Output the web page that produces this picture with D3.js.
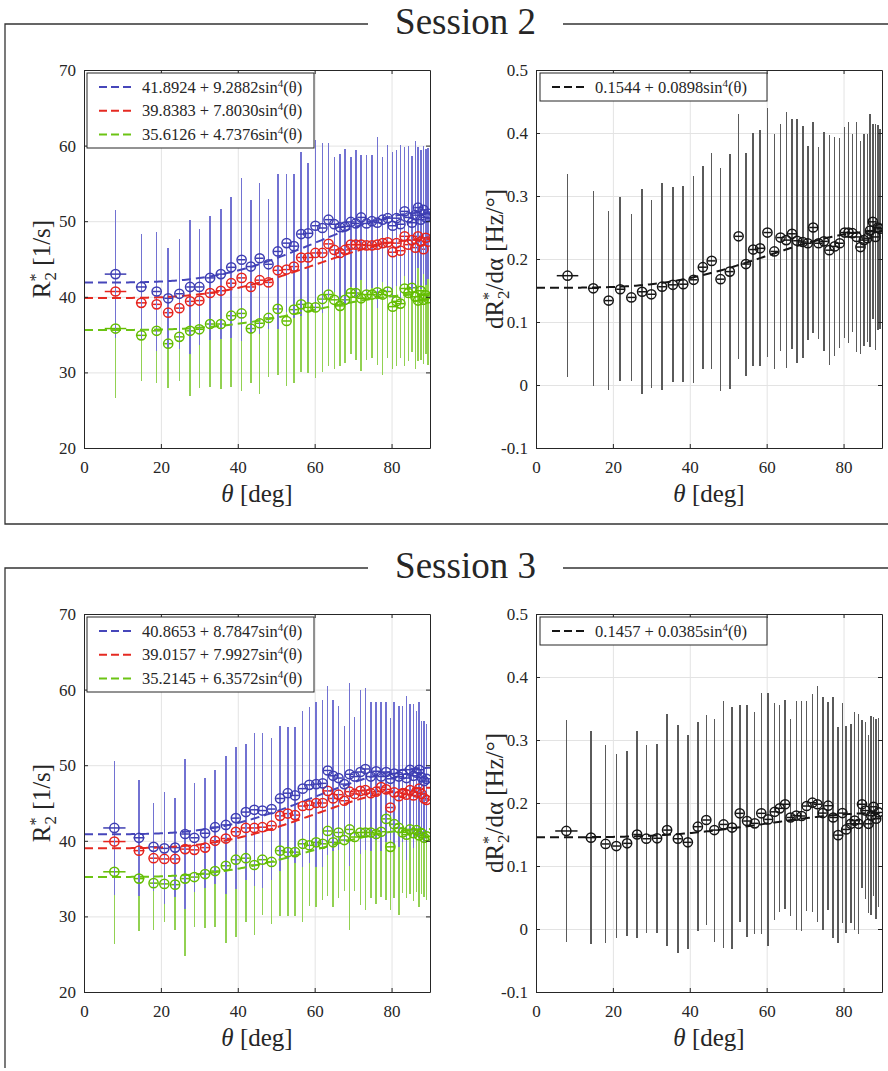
<!DOCTYPE html>
<html><head><meta charset="utf-8">
<script src="https://cdn.jsdelivr.net/npm/d3@7"></script>
<style>
body{margin:0;background:#fff}
svg text{font-family:"Liberation Serif","Tinos","DejaVu Serif","Noto Serif",serif !important;fill:#262626}
</style></head>
<body><svg id="c" width="888" height="1071"></svg>
<script>
// ---------------- DATA ----------------
const xTicks = [0, 20, 40, 60, 80];
const r2Ticks = [20, 30, 40, 50, 60, 70];
const dTicks = [-0.1, 0, 0.1, 0.2, 0.3, 0.4, 0.5];
const legendOrder = ["blue", "red", "green"];

// Session 2
const theta2 = [8.2,14.9,18.9,21.9,24.8,27.6,30.0,32.8,35.6,38.3,41.0,43.4,45.7,48.0,50.4,52.7,54.6,56.5,58.3,60.2,62.0,63.6,65.1,66.6,67.9,69.4,70.7,72.1,73.5,74.9,76.3,77.7,79.0,80.3,81.3,82.3,83.4,84.4,85.3,86.2,86.9,87.6,88.3,88.9,89.5];
const thetaErr2 = [2.8,1.4,1,1,1,1,1,1,1,1,1,1,1,1,1,1,1,1,1,1,1,1,1,1,1,1,1,1,1,1,1,1,1,1,1,1,1,1,1,1,1,1,1,1,1];
const blue2 = [43.0,41.3,40.7,39.8,40.4,41.3,41.3,42.5,43.0,43.9,44.9,44.0,45.1,44.3,46.0,47.1,46.7,48.3,48.4,49.4,49.1,50.2,49.6,49.2,49.3,49.9,49.7,50.5,49.7,50.0,49.8,50.2,50.4,49.4,50.4,49.6,51.3,50.5,49.8,50.8,51.8,50.2,51.5,50.5,51.0];
const blueErr2 = [8.5,7.0,7.9,6.6,7.3,8.9,7.7,8.2,8.6,9.3,10.8,8.8,10.0,8.6,10.2,9.1,9.5,10.8,9.3,11.3,11.2,10.2,8.9,9.7,10.2,8.6,9.7,8.3,9.1,8.8,11.3,8.3,9.7,9.8,9.0,10.5,8.5,9.5,8.8,9.8,8.0,9.2,8.5,9.0,8.7];
const red2 = [40.7,39.2,39.0,37.9,38.5,39.4,39.5,40.5,40.8,41.8,42.5,41.3,42.2,41.9,43.5,43.6,44.0,45.2,45.2,45.8,45.8,47.0,46.2,45.8,46.2,46.9,46.9,46.9,46.8,46.8,46.9,47.1,47.2,45.9,47.1,46.1,48.0,46.9,47.5,46.5,48.0,47.3,46.3,47.8,47.3];
const redErr2 = [7.5,6.5,7.0,6.0,6.5,7.5,7.0,7.5,7.5,8.0,9.0,7.5,8.5,7.5,8.5,8.0,8.0,9.0,8.0,9.5,9.5,8.5,8.0,8.5,8.5,7.5,8.5,7.5,8.0,8.0,9.5,7.5,8.5,8.5,8.0,9.0,7.5,8.5,8.0,8.5,7.5,8.0,7.5,8.0,7.5];
const green2 = [35.8,34.9,35.5,33.8,34.7,35.5,35.7,36.4,36.4,37.5,37.8,35.8,36.5,37.2,38.4,36.8,38.3,39.0,38.6,38.6,39.7,40.3,39.6,38.8,39.6,40.5,40.5,39.8,40.3,40.3,40.6,40.3,40.7,38.7,39.4,39.1,41.1,40.5,41.2,40.0,39.5,40.8,39.6,40.2,39.8];
const greenErr2 = [9.2,6.1,6.9,5.9,5.9,8.6,7.7,8.3,8.6,9.4,10.2,7.2,9.3,7.8,8.7,8.6,9.7,9.0,8.7,9.4,9.7,9.5,9.1,8.0,8.4,8.0,8.9,9.6,8.7,8.4,9.6,10.6,8.8,8.2,8.6,7.2,10.3,9.0,8.5,9.5,8.0,9.2,8.5,7.8,8.8];
const slope2 = [0.1735,0.1535,0.134,0.152,0.139,0.148,0.144,0.156,0.159,0.160,0.167,0.187,0.197,0.168,0.180,0.236,0.192,0.215,0.217,0.242,0.212,0.234,0.230,0.240,0.229,0.227,0.225,0.250,0.225,0.228,0.214,0.220,0.225,0.242,0.242,0.241,0.235,0.219,0.230,0.233,0.245,0.259,0.235,0.250,0.248];
const slopeErr2 = [0.161,0.155,0.142,0.146,0.132,0.163,0.149,0.164,0.155,0.156,0.164,0.161,0.172,0.177,0.186,0.194,0.177,0.185,0.187,0.197,0.186,0.180,0.203,0.183,0.194,0.184,0.154,0.168,0.152,0.174,0.183,0.174,0.167,0.167,0.175,0.157,0.183,0.169,0.168,0.165,0.185,0.155,0.179,0.162,0.159];
const fits2 = {blue:[41.8924,9.2882], red:[39.8383,7.8030], green:[35.6126,4.7376], black:[0.1544,0.0898]};

// Session 3
const theta3 = [7.9,14.3,18.1,20.9,23.7,26.3,28.7,31.5,34.1,36.9,39.5,42.1,44.3,46.4,48.8,51.0,53.0,54.9,56.9,58.6,60.4,62.1,63.4,64.8,66.2,67.7,69.1,70.4,71.9,73.2,74.6,76.0,77.3,78.6,79.7,80.7,81.9,82.9,83.9,84.8,85.7,86.5,87.2,87.8,88.5,89.1];
const thetaErr3 = [2.9,1.4,1,1,1,1,1,1,1,1,1,1,1,1,1,1,1,1,1,1,1,1,1,1,1,1,1,1,1,1,1,1,1,1,1,1,1,1,1,1,1,1,1,1,1,1];
const blue3 = [41.7,40.4,39.2,39.0,39.1,40.9,40.4,41.0,41.8,42.1,43.0,43.8,44.1,44.0,44.2,45.6,46.3,46.0,46.9,47.4,47.5,47.6,49.3,48.6,48.3,47.5,48.8,48.5,49.1,49.5,48.5,49.2,48.5,49.1,48.2,48.9,48.5,48.8,48.3,49.4,48.6,49.0,49.4,48.4,47.9,48.2];
const blueErr3 = [8.9,7.7,5.8,7.4,6.5,9.9,7.2,7.3,7.5,9.1,9.4,9.0,10.1,10.2,9.4,9.6,8.7,9.0,10.3,10.3,10.9,11.0,11.2,10.0,9.5,7.7,12.1,7.9,10.9,10.7,9.9,9.1,9.8,9.2,8.1,9.4,9.3,9.0,10.8,8.7,9.5,8.2,9.0,7.5,8.0,7.2];
const red3 = [39.9,38.7,37.7,37.6,37.6,38.9,38.8,39.1,40.0,40.3,41.2,41.7,41.7,41.8,42.0,43.3,43.6,43.4,44.6,44.7,45.0,45.0,46.6,45.6,46.1,45.3,46.5,46.2,46.6,46.7,46.3,46.5,47.1,46.8,44.4,46.4,45.9,46.3,46.1,46.7,46.0,46.4,46.9,46.2,45.6,45.4];
const redErr3 = [7.5,6.5,5.5,6.5,6.0,8.5,6.5,6.5,7.0,8.0,8.5,8.0,9.0,9.0,8.5,8.5,8.0,8.0,9.0,9.0,9.5,9.5,10.0,9.0,8.5,7.0,10.5,7.5,9.5,9.5,9.0,8.5,9.0,8.5,7.5,8.5,8.5,8.0,9.5,8.0,8.5,7.5,8.0,7.0,7.5,7.0];
const green3 = [35.9,35.0,34.4,34.3,34.2,35.0,35.2,35.6,36.0,36.7,37.5,37.7,36.8,37.5,37.2,38.7,38.5,38.5,39.6,39.4,39.8,39.6,41.3,39.8,41.1,40.1,41.5,40.5,41.1,41.1,41.1,40.9,41.2,42.9,39.2,42.2,41.7,41.1,40.8,41.5,41.0,41.4,40.7,41.0,40.4,40.6];
const greenErr3 = [9.5,6.9,6.2,5.0,6.0,10.2,6.6,7.2,7.4,10.2,10.2,8.5,9.3,7.3,8.2,8.6,8.4,8.4,10.3,8.0,8.5,7.4,8.6,8.5,8.7,6.8,13.3,7.1,9.6,10.2,8.7,9.2,8.6,10.7,8.4,9.8,11.5,8.0,8.4,8.6,9.0,8.2,9.5,8.0,7.8,8.4];
const slope3 = [0.1556,0.145,0.135,0.1317,0.136,0.150,0.1433,0.144,0.157,0.1433,0.1376,0.1624,0.173,0.157,0.166,0.161,0.1836,0.1714,0.1677,0.1836,0.174,0.186,0.1915,0.198,0.177,0.180,0.1794,0.1952,0.2005,0.198,0.184,0.1957,0.177,0.149,0.184,0.158,0.167,0.172,0.167,0.198,0.188,0.167,0.180,0.194,0.175,0.185];
const slopeErr3 = [0.176,0.169,0.157,0.146,0.147,0.165,0.149,0.150,0.184,0.181,0.170,0.166,0.167,0.177,0.196,0.192,0.172,0.184,0.176,0.191,0.201,0.172,0.164,0.166,0.156,0.182,0.183,0.166,0.173,0.187,0.185,0.165,0.191,0.171,0.175,0.165,0.158,0.173,0.175,0.133,0.140,0.141,0.158,0.142,0.159,0.150];
const fits3 = {blue:[40.8653,8.7847], red:[39.0157,7.9927], green:[35.2145,6.3572], black:[0.1457,0.0385]};

// ---------------- STYLE ----------------
const FONT = '"Liberation Serif","Tinos","DejaVu Serif","Noto Serif",serif';
const COL = {
  blue:{mk:"#3e3eb2", bar:"#7272d2", fit:"#4646ba"},
  red:{mk:"#e6231d", bar:"#e6231d", fit:"#e52a22"},
  green:{mk:"#63bd00", bar:"#92d152", fit:"#6cc414"},
  black:{mk:"#151515", bar:"#5a5a5a", fit:"#151515"}
};

const svg = d3.select("#c");
let clipN = 0;

function fmtTick(d){ return String(Math.round(d*10)/10); }

function panel(cfg){
  const x = d3.scaleLinear().domain([0,90]).range([cfg.x0, cfg.x1]);
  const y = d3.scaleLinear().domain(cfg.ydom).range([cfg.y1, cfg.y0]);
  const g = svg.append("g");
  const id = "clip" + (clipN++);
  svg.append("clipPath").attr("id", id).append("rect")
    .attr("x", cfg.x0).attr("y", cfg.y0).attr("width", cfg.x1-cfg.x0).attr("height", cfg.y1-cfg.y0);

  g.append("rect").attr("x",cfg.x0).attr("y",cfg.y0).attr("width",cfg.x1-cfg.x0).attr("height",cfg.y1-cfg.y0).attr("fill","#fff");
  // grid
  const gx = g.append("g").attr("transform",`translate(0,${cfg.y1})`)
    .call(d3.axisBottom(x).tickValues(xTicks.slice(1)).tickSize(-(cfg.y1-cfg.y0)).tickFormat(""));
  const gy = g.append("g").attr("transform",`translate(${cfg.x0},0)`)
    .call(d3.axisLeft(y).tickValues(cfg.yticks.slice(1,-1)).tickSize(-(cfg.x1-cfg.x0)).tickFormat(""));
  [gx,gy].forEach(a=>{a.select(".domain").remove(); a.selectAll("line").attr("stroke","#e3e3e3").attr("stroke-width",1);});

  const plot = g.append("g").attr("clip-path",`url(#${id})`);
  // error bars
  cfg.series.forEach(s=>{
    const c = COL[s.color];
    const gb = plot.append("g").attr("stroke", c.bar).attr("stroke-width", 1.5);
    gb.selectAll("line.v").data(s.values).join("line").attr("class","v")
      .attr("shape-rendering","crispEdges")
      .attr("x1",(d,i)=>x(cfg.theta[i])).attr("x2",(d,i)=>x(cfg.theta[i]))
      .attr("y1",(d,i)=>y(d - s.err[i])).attr("y2",(d,i)=>y(d + s.err[i]));
    gb.selectAll("line.h").data(s.values).join("line").attr("class","h")
      .attr("x1",(d,i)=>x(cfg.theta[i]-cfg.thetaErr[i])).attr("x2",(d,i)=>x(cfg.theta[i]+cfg.thetaErr[i]))
      .attr("y1",d=>y(d)).attr("y2",d=>y(d))
      .attr("stroke", c.mk);
  });
  // fit lines
  const grid = d3.range(0, 90.01, 0.5);
  cfg.series.forEach(s=>{
    const p = cfg.fits[s.color];
    const line = d3.line().x(t=>x(t)).y(t=>y(p[0] + p[1]*Math.pow(Math.sin(t*Math.PI/180),4)));
    plot.append("path").attr("d", line(grid)).attr("fill","none")
      .attr("stroke", COL[s.color].fit).attr("stroke-width",2).attr("stroke-dasharray","9,5");
  });
  // markers
  cfg.series.forEach(s=>{
    const c = COL[s.color];
    plot.append("g").selectAll("circle").data(s.values).join("circle")
      .attr("cx",(d,i)=>x(cfg.theta[i])).attr("cy",d=>y(d)).attr("r",4.6)
      .attr("fill","none").attr("stroke",c.mk).attr("stroke-width",1.5);
  });

  // axes
  const ax = [];
  ax.push(g.append("g").attr("transform",`translate(0,${cfg.y1})`)
    .call(d3.axisBottom(x).tickValues(xTicks).tickSizeInner(-4).tickSizeOuter(0).tickPadding(13).tickFormat(d3.format("d"))));
  ax.push(g.append("g").attr("transform",`translate(0,${cfg.y0})`)
    .call(d3.axisTop(x).tickValues(xTicks).tickSizeInner(-4).tickSizeOuter(0).tickFormat("")));
  ax.push(g.append("g").attr("transform",`translate(${cfg.x0},0)`)
    .call(d3.axisLeft(y).tickValues(cfg.yticks).tickSizeInner(-4).tickSizeOuter(0).tickPadding(8).tickFormat(fmtTick)));
  ax.push(g.append("g").attr("transform",`translate(${cfg.x1},0)`)
    .call(d3.axisRight(y).tickValues(cfg.yticks).tickSizeInner(-4).tickSizeOuter(0).tickFormat("")));
  ax.forEach(a=>{
    a.attr("font-family", FONT);
    a.select(".domain").attr("stroke","#262626").attr("stroke-width",1);
    a.selectAll(".tick line").attr("stroke","#262626");
    a.selectAll("text").attr("font-size",17).attr("font-family",FONT).attr("fill","#262626");
  });

  // x label
  const xl = g.append("text").attr("x",(cfg.x0+cfg.x1)/2).attr("y",cfg.y1+54)
    .attr("text-anchor","middle").attr("font-size",25).attr("font-family",FONT);
  xl.append("tspan").attr("font-style","italic").text("θ");
  xl.append("tspan").text(" [deg]");

  // y label
  const yl = g.append("text").attr("transform",`translate(${cfg.ylx},${(cfg.y0+cfg.y1)/2}) rotate(-90)`)
    .attr("text-anchor","middle").attr("font-size",25).attr("font-family",FONT);
  yl.append("tspan").text(cfg.ylab[0]);
  yl.append("tspan").attr("font-size",16).attr("dy",-9).text("*");
  yl.append("tspan").attr("font-size",17).attr("dx",-7).attr("dy",15).text("2");
  yl.append("tspan").attr("dy",-6).text(cfg.ylab[1]);

  // legend
  const L = cfg.legend;
  const lg = g.append("g");
  lg.append("rect").attr("x",L.x).attr("y",L.y).attr("width",227).attr("height",L.h)
    .attr("fill","#fff").attr("stroke","#262626").attr("stroke-width",1);
  const names = legendOrder.filter(n => cfg.series.some(s => s.color === n)).concat(cfg.series.some(s=>s.color==="black")?["black"]:[]);
  names.forEach((name,i)=>{
    const p = cfg.fits[name];
    const cy = L.y + 14 + i*23.7;
    lg.append("line").attr("x1",L.x+12).attr("x2",L.x+46).attr("y1",cy).attr("y2",cy)
      .attr("stroke",COL[name].fit).attr("stroke-width",2).attr("stroke-dasharray","8,4");
    const t = lg.append("text").attr("x",L.x+55).attr("y",cy+5.5).attr("font-size",16.5).attr("font-family",FONT);
    t.append("tspan").text(`${p[0].toFixed(4)} + ${p[1].toFixed(4)}sin`);
    t.append("tspan").attr("font-size",11).attr("dy",-6).text("4");
    t.append("tspan").attr("dy",6).text("(θ)");
  });
}

function session(title, top, theta, thetaErr, left, right, fits){
  const gap0 = 368, gap1 = 563;
  const f = svg.append("g").attr("stroke","#333").attr("stroke-width",1.3).attr("fill","none");
  f.append("path").attr("d",`M${gap0},${top}H5V${top+500}`+(top<300?`H900`:``));
  f.append("path").attr("d",`M${gap1},${top}H900`);
  svg.append("text").attr("x",(gap0+gap1)/2).attr("y",top+10).attr("text-anchor","middle")
    .attr("font-size",37).attr("font-family",FONT).attr("fill","#1a1a1a").text(title);
  const y0 = top + 46, y1 = top + 424;
  panel({x0:84, x1:430, y0, y1, ydom:[20,70], yticks:r2Ticks, theta, thetaErr, fits,
    series:left, ylx:50, ylab:["R"," [1/s]"], legend:{x:87, y:y0+3, h:75}});
  panel({x0:536, x1:882, y0, y1, ydom:[-0.1,0.5], yticks:dTicks, theta, thetaErr, fits,
    series:right, ylx:503, ylab:["dR","/dα [Hz/°]"], legend:{x:540, y:y0+3, h:28}});
}

session("Session 2", 24, theta2, thetaErr2,
  [{color:"red", values:red2, err:redErr2},{color:"green", values:green2, err:greenErr2},{color:"blue", values:blue2, err:blueErr2}],
  [{color:"black", values:slope2, err:slopeErr2}], fits2);
session("Session 3", 568, theta3, thetaErr3,
  [{color:"red", values:red3, err:redErr3},{color:"green", values:green3, err:greenErr3},{color:"blue", values:blue3, err:blueErr3}],
  [{color:"black", values:slope3, err:slopeErr3}], fits3);
</script></body></html>
